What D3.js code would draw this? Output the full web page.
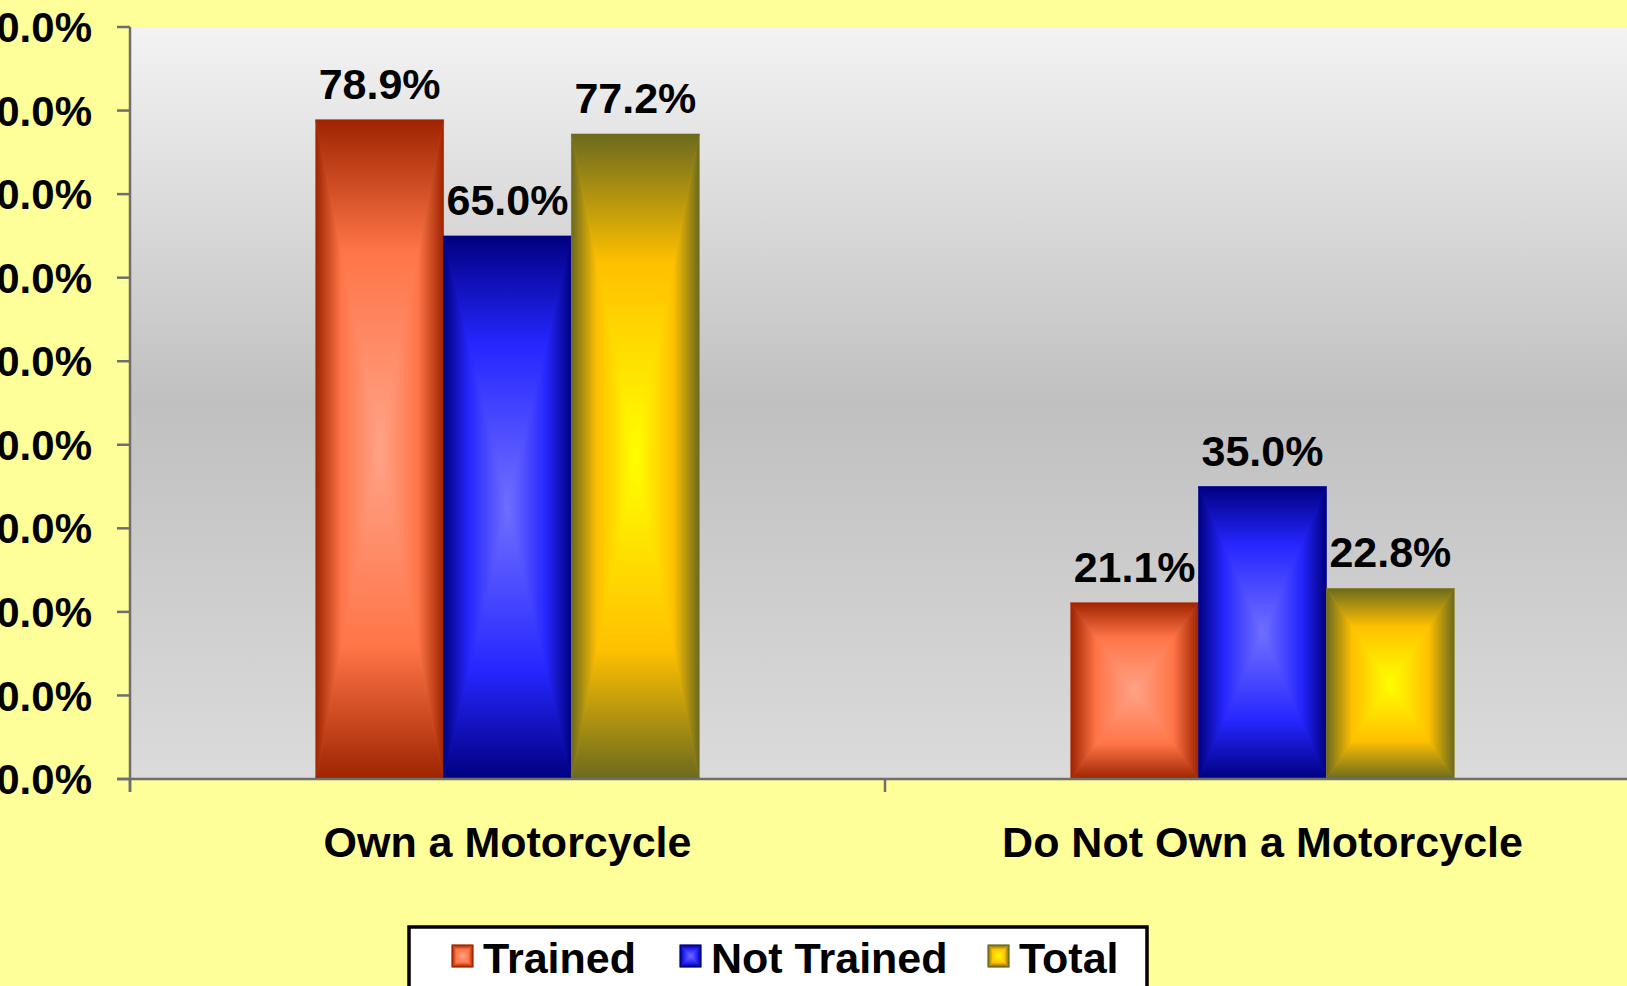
<!DOCTYPE html>
<html>
<head>
<meta charset="utf-8">
<script src="https://cdn.jsdelivr.net/npm/d3@7"></script>
<style>
  body { margin: 0; background: #FFFF99; }
  svg { display: block; font-family: "Liberation Sans", Arial, sans-serif; font-weight: bold; }
</style>
</head>
<body>
<svg width="1627" height="986"></svg>
<script>
const categories = ["Own a Motorcycle", "Do Not Own a Motorcycle"]
const seriesNames = ["Trained", "Not Trained", "Total"]
const trained = [78.9, 21.1]
const notTrained = [65.0, 35.0]
const total = [77.2, 22.8]
const yTicks = [0, 10, 20, 30, 40, 50, 60, 70, 80, 90]

// edge / mid / centre colours of the "from centre" fills
const palette = {
  "Trained":     ["#9E2400", "#FF7548", "#FFA388"],
  "Not Trained": ["#000080", "#2626FF", "#7070FF"],
  "Total":       ["#6B6A1E", "#FFC000", "#FFFF00"]
}

const values = { "Trained": trained, "Not Trained": notTrained, "Total": total }

const svg = d3.select("svg")
const defs = svg.append("defs")

const plotLeft = 130, plotRight = 1640, plotTop = 27, plotBottom = 779
const fontSize = 43

const x0 = d3.scaleBand().domain(categories).range([plotLeft, plotRight])
const x1 = d3.scaleBand().domain(seriesNames)
  .range([x0.bandwidth() * 0.246, x0.bandwidth() * 0.754])
const y = d3.scaleLinear().domain([0, 90]).range([plotBottom, plotTop])
const pct = d3.format(".1f")

// plot background
const bg = defs.append("linearGradient").attr("id", "plotbg")
  .attr("x1", 0).attr("y1", 0).attr("x2", 0).attr("y2", 1)
bg.append("stop").attr("offset", 0).attr("stop-color", "#F3F3F3")
bg.append("stop").attr("offset", 0.5).attr("stop-color", "#C0C0C0")
bg.append("stop").attr("offset", 1).attr("stop-color", "#DBDBDB")

svg.append("rect")
  .attr("x", plotLeft).attr("y", plotTop)
  .attr("width", plotRight - plotLeft).attr("height", plotBottom - plotTop)
  .attr("fill", "url(#plotbg)")

// four directional gradients per series (edge -> centre)
const dirs = { t: [0, 0, 0, 1], b: [0, 1, 0, 0], l: [0, 0, 1, 0], r: [1, 0, 0, 0] }
seriesNames.forEach((s, si) => {
  Object.keys(dirs).forEach(k => {
    const g = defs.append("linearGradient").attr("id", "g" + si + k)
      .attr("x1", dirs[k][0]).attr("y1", dirs[k][1])
      .attr("x2", dirs[k][2]).attr("y2", dirs[k][3])
    g.append("stop").attr("offset", 0).attr("stop-color", palette[s][0])
    g.append("stop").attr("offset", 0.4).attr("stop-color", palette[s][1])
    g.append("stop").attr("offset", 1).attr("stop-color", palette[s][2])
  })
})

// draws a rectangle filled as a rectangular path gradient
function pyramid(sel, si, x, yy, w, h) {
  const cx = x + w / 2, cy = yy + h / 2
  sel.append("rect").attr("x", x).attr("y", yy).attr("width", w).attr("height", h)
    .attr("fill", palette[seriesNames[si]][1])
  const tri = {
    t: [[x, yy], [x + w, yy], [cx, cy]],
    b: [[x, yy + h], [x + w, yy + h], [cx, cy]],
    l: [[x, yy], [x, yy + h], [cx, cy]],
    r: [[x + w, yy], [x + w, yy + h], [cx, cy]]
  }
  Object.keys(tri).forEach(k => {
    sel.append("polygon")
      .attr("points", tri[k].map(p => p.join(",")).join(" "))
      .attr("fill", "url(#g" + si + k + ")")
      .attr("stroke", "url(#g" + si + k + ")")
      .attr("stroke-width", 0.5)
  })
}

// bars
const groups = svg.selectAll("g.cat")
  .data(categories)
  .enter()
  .append("g")
  .attr("class", "cat")
  .attr("transform", d => "translate(" + x0(d) + ",0)")

groups.each(function (cat, ci) {
  const g = d3.select(this)
  seriesNames.forEach((s, si) => {
    const v = values[s][ci]
    pyramid(g, si, x1(s), y(v), x1.bandwidth(), y(0) - y(v))
    g.append("text")
      .attr("x", x1(s) + x1.bandwidth() / 2)
      .attr("y", y(v) - 21)
      .attr("text-anchor", "middle")
      .attr("font-size", fontSize)
      .attr("fill", "#000")
      .text(pct(v) + "%")
  })
})

// axes
const axisColor = "#6E6E6E"
svg.append("line")
  .attr("x1", plotLeft).attr("x2", plotLeft).attr("y1", plotTop).attr("y2", plotBottom + 13)
  .attr("stroke", axisColor).attr("stroke-width", 2.5)
svg.append("line")
  .attr("x1", plotLeft - 13).attr("x2", plotRight).attr("y1", plotBottom).attr("y2", plotBottom)
  .attr("stroke", axisColor).attr("stroke-width", 2.5)

svg.selectAll("line.ytick")
  .data(yTicks)
  .enter()
  .append("line")
  .attr("class", "ytick")
  .attr("x1", plotLeft - 13).attr("x2", plotLeft)
  .attr("y1", d => y(d)).attr("y2", d => y(d))
  .attr("stroke", axisColor).attr("stroke-width", 2.5)

svg.selectAll("text.ylab")
  .data(yTicks)
  .enter()
  .append("text")
  .attr("class", "ylab")
  .attr("x", 92)
  .attr("y", d => y(d))
  .attr("dy", "0.36em")
  .attr("text-anchor", "end")
  .attr("font-size", 42)
  .text(d => pct(d) + "%")

svg.selectAll("line.xtick")
  .data(categories)
  .enter()
  .append("line")
  .attr("class", "xtick")
  .attr("x1", d => x0(d)).attr("x2", d => x0(d))
  .attr("y1", plotBottom).attr("y2", plotBottom + 13)
  .attr("stroke", axisColor).attr("stroke-width", 2.5)

svg.selectAll("text.xlab")
  .data(categories)
  .enter()
  .append("text")
  .attr("class", "xlab")
  .attr("x", d => x0(d) + x0.bandwidth() / 2)
  .attr("y", 857)
  .attr("text-anchor", "middle")
  .attr("font-size", fontSize)
  .text(d => d)

// legend
svg.append("rect")
  .attr("x", 409).attr("y", 927)
  .attr("width", 738).attr("height", 90)
  .attr("fill", "#fff").attr("stroke", "#000").attr("stroke-width", 3.5)

const legendX = [452, 680, 988]
seriesNames.forEach((s, si) => {
  const lg = svg.append("g")
  pyramid(lg, si, legendX[si], 945, 21, 22)
  lg.append("rect").attr("x", legendX[si]).attr("y", 945).attr("width", 21).attr("height", 22)
    .attr("fill", "none").attr("stroke", palette[s][0]).attr("stroke-width", 1)
  lg.append("text")
    .attr("x", legendX[si] + 31)
    .attr("y", 973)
    .attr("font-size", fontSize)
    .text(s)
})
</script>
</body>
</html>
